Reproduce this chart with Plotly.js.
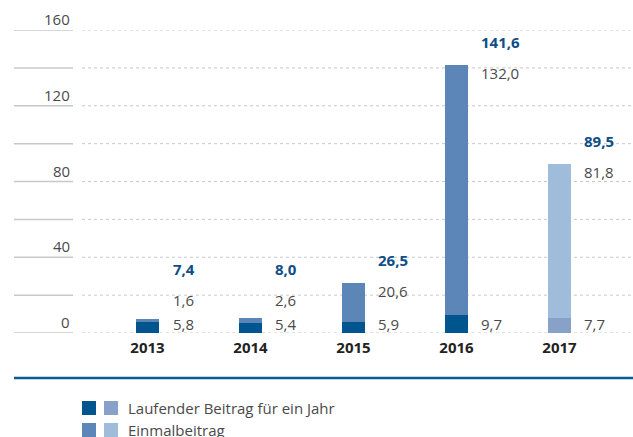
<!DOCTYPE html>
<html><head><meta charset="utf-8">
<script src="https://cdn.plot.ly/plotly-3.0.1.min.js"></script>
<style>html,body{margin:0;padding:0;background:#fff}#chart{width:633px;height:437px}</style>
</head><body><div id="chart"></div>
<script>
const years = ['2013', '2014', '2015', '2016', '2017'];
const laufend = [5.8, 5.4, 5.9, 9.7, 7.7];
const einmal = [1.6, 2.6, 20.6, 132.0, 81.8];
const totals = [7.4, 8.0, 26.5, 141.6, 89.5];
const yTickVals = [0, 40, 80, 120, 160];
const yLineVals = [0, 20, 40, 60, 80, 100, 120, 140, 160];
const legendLabels = ['Laufender Beitrag für ein Jahr', 'Einmalbeitrag'];

const FONT = 'Open Sans, Noto Sans, sans-serif';
const C_LAUF = '#00558f', C_EIN = '#5b86b7', C_LAUF17 = '#87a1c9', C_EIN17 = '#a0bcdb';
const C_TOTAL = '#0e4d86', C_TEXT = '#4a4a4a', C_GRID = '#c8c8c8';

const laufColors = years.map(y => y === '2017' ? C_LAUF17 : C_LAUF);
const einColors = years.map(y => y === '2017' ? C_EIN17 : C_EIN);
const fmt = v => v.toFixed(1).replace('.', ',');

const traces = [
  {type: 'bar', x: years, y: laufend, name: legendLabels[0], marker: {color: laufColors}, width: 0.223, hoverinfo: 'skip'},
  {type: 'bar', x: years, y: einmal, name: legendLabels[1], marker: {color: einColors}, width: 0.223, hoverinfo: 'skip'}
];

const annotations = [];
const shapes = [];
const PX = 551, PY = 303;
yLineVals.forEach(v => {
  shapes.push({type: 'line', xref: 'paper', yref: 'y', x0: 0, x1: 1, y0: v, y1: v, layer: 'below', line: {color: C_GRID, width: 1, dash: 'dot'}});
  shapes.push({type: 'line', xref: 'paper', yref: 'y', x0: (14 - 82) / PX, x1: (73 - 82) / PX, y0: v, y1: v, line: {color: C_GRID, width: 1.5}});
});
years.forEach((yr, i) => {
  const topY = Math.max(totals[i], 21.5);
  annotations.push({x: i, y: 0, text: fmt(laufend[i]), showarrow: false, xanchor: 'left', yanchor: 'middle', xshift: 23, yshift: 9, font: {family: FONT, size: 15, color: C_TEXT}});
  annotations.push({x: i, y: topY, text: fmt(einmal[i]), showarrow: false, xanchor: 'left', yanchor: 'middle', xshift: 23, yshift: -8, font: {family: FONT, size: 15, color: C_TEXT}});
  annotations.push({x: i, y: topY, text: '<b>' + fmt(totals[i]) + '</b>', showarrow: false, xanchor: 'left', yanchor: 'middle', xshift: 23, yshift: 23, font: {family: FONT, size: 15, color: C_TOTAL}});
});
yTickVals.forEach(v => {
  annotations.push({xref: 'paper', x: (72 - 82) / PX, y: v, text: String(v), showarrow: false, xanchor: 'right', yanchor: 'middle', yshift: 11, font: {family: FONT, size: 15, color: C_TEXT}});
});
shapes.push({type: 'line', xref: 'paper', yref: 'paper', x0: (14 - 82) / PX, x1: 1, y0: (333 - 378) / PY, y1: (333 - 378) / PY, line: {color: '#0b5b96', width: 2.5}});
// legend
const legRows = [[C_LAUF, C_LAUF17], [C_EIN, C_EIN17]];
legRows.forEach((cols, r) => {
  const top = 401 + r * 22, bot = top + 14;
  cols.forEach((c, k) => {
    const left = 82 + k * 22;
    shapes.push({type: 'rect', xref: 'paper', yref: 'paper', x0: (left - 82) / PX, x1: (left + 14 - 82) / PX, y0: (333 - bot) / PY, y1: (333 - top) / PY, fillcolor: c, line: {width: 0}});
  });
  annotations.push({xref: 'paper', yref: 'paper', x: (126 - 82) / PX, y: (333 - (top + 7)) / PY, text: legendLabels[r], showarrow: false, xanchor: 'left', yanchor: 'middle', font: {family: FONT, size: 15, color: C_TEXT}});
});

const layout = {
  width: 633, height: 437,
  margin: {l: 82, r: 0, t: 30, b: 104},
  paper_bgcolor: '#fff', plot_bgcolor: '#fff',
  barmode: 'stack', showlegend: false,
  font: {family: FONT, color: C_TEXT},
  xaxis: {type: 'category', range: [-0.636, 4.714], showgrid: false, zeroline: false, showline: false, ticks: '',
    ticklabelstandoff: 4, tickfont: {family: FONT, size: 15, color: '#222', weight: 'bold'}, fixedrange: true},
  yaxis: {range: [0, 160], showticklabels: false, showgrid: false, zeroline: false, showline: false, ticks: '', fixedrange: true},
  annotations: annotations, shapes: shapes
};
Plotly.newPlot('chart', traces, layout, {staticPlot: true, displayModeBar: false});
</script>
</body></html>
